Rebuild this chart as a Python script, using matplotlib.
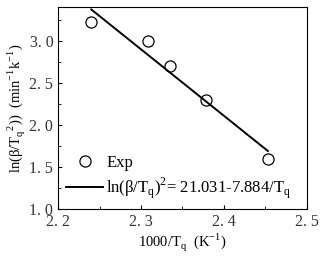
import numpy as np
import matplotlib.pyplot as plt
from matplotlib.ticker import MultipleLocator

plt.rcParams['font.family'] = ['Liberation Serif', 'DejaVu Serif']
plt.rcParams['mathtext.fontset'] = 'custom'
plt.rcParams['mathtext.rm'] = 'Liberation Serif'

# Experimental points
inv_T = [2.240, 2.308, 2.335, 2.378, 2.453]
ln_val = [3.22, 3.00, 2.70, 2.30, 1.60]

# Fit: ln(b/T^2) = 21.031 - 7.884 * (1000/T)
a, b = 21.031, 7.884
x_fit = np.array([2.240, 2.453])
y_fit = a - b * x_fit

fig = plt.figure(figsize=(3.23, 2.60), dpi=100)
ax = fig.add_axes([0.18, 0.195, 0.77, 0.778])

ax.plot(inv_T, ln_val, 'o', mfc='none', mec='black', ms=8, mew=0.9, label='Exp')
ax.plot(x_fit, y_fit, '-', color='black', lw=1.4,
        label=r'ln(β/T$_\mathrm{q}$)$^2$= 21.031-7.884/T$_\mathrm{q}$')

ax.set_xlim(2.2, 2.5)
ax.set_ylim(1.0, 3.4)
ax.xaxis.set_major_locator(MultipleLocator(0.1))
ax.xaxis.set_minor_locator(MultipleLocator(0.05))
ax.yaxis.set_major_locator(MultipleLocator(0.5))
ax.yaxis.set_minor_locator(MultipleLocator(0.25))
ax.set_xticklabels([f'{v:.1f}'.replace('.', '. ') for v in ax.get_xticks()])
ax.set_yticklabels([f'{v:.1f}'.replace('.', '. ') for v in ax.get_yticks()])
ax.tick_params(which='both', direction='in', labelsize=11.5, labelcolor='#333333')
ax.tick_params(which='major', length=3)
ax.tick_params(which='minor', length=2)
for s in ax.spines.values():
    s.set_linewidth(0.8)

ax.set_xlabel(r'1000/T$_\mathrm{q}$  (K$^{-1}$)', fontsize=10.5, labelpad=1)
ax.set_ylabel(r'ln(β/T$_\mathrm{q}$$^2$))  (min$^{-1}$k$^{-1}$)', fontsize=10.5, labelpad=2)

ax.legend(loc='lower left', frameon=False, fontsize=12, handlelength=2.2,
          handletextpad=0.2, borderaxespad=0.1, labelspacing=0.25)

fig.savefig('out.png', dpi=100)
